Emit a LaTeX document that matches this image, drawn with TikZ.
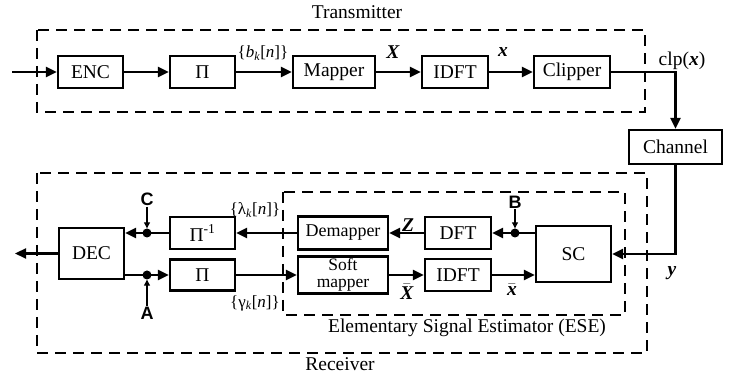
\documentclass[tikz,border=0pt]{standalone}
\usepackage{fontspec}
\setmainfont{Liberation Serif}
\newfontfamily\probefont{Liberation Sans}
\usetikzlibrary{arrows.meta}

\begin{document}
\begin{tikzpicture}[x=1pt, y=1pt,
    block/.style={draw, line width=2.2pt, minimum height=32pt, inner sep=0pt,
        font=\fontsize{19.5}{22}\selectfont},
    frame/.style={line width=1.8pt, dash pattern=on 11pt off 7pt},
    sig/.style={line width=2.2pt, -{Triangle[length=11pt,width=10pt]}},
    tap/.style={circle, fill, inner sep=0pt, minimum size=9pt},
    probe/.style={line width=1.1pt, -{Triangle[length=6pt,width=6pt]}},
    lbl/.style={inner sep=1pt, font=\fontsize{17}{19}\selectfont},
    vlbl/.style={inner sep=1pt, font=\fontsize{19.5}{22}\selectfont},
    probelbl/.style={inner sep=1pt, font=\probefont\bfseries\fontsize{18}{20}\selectfont},
]
    \useasboundingbox (0,0) rectangle (732,374);

    % transmitter chain
    \node[block, minimum width=65pt] (enc) at (90.5,302) {ENC};
    \node[block, minimum width=65pt] (ilv) at (202.5,302) {Π};
    \node[block, minimum width=82pt] (map) at (334,302) {Mapper};
    \node[block, minimum width=66pt] (idft) at (455,302) {IDFT};
    \node[block, minimum width=76pt] (clip) at (572,302) {Clipper};
    \node[block, minimum width=93pt, minimum height=34pt] (chan) at (675.5,227) {Channel};

    % receiver chain
    \node[block, minimum width=65pt, minimum height=51pt] (dec) at (91.5,120.5) {DEC};
    \node[block, minimum width=65pt] (deilv) at (202.5,141) {Π\textsuperscript{-1}};
    \node[block, minimum width=65pt, minimum height=31pt] (rilv) at (202.5,99) {Π};
    \node[block, minimum width=90pt, minimum height=33pt,
        font=\fontsize{18}{17}\selectfont] (demap) at (343,141) {Demapper};
    \node[block, minimum width=90pt, minimum height=37pt, align=center,
        font=\fontsize{17.5}{17}\selectfont] (smap) at (343,99) {Soft\\mapper};
    \node[block, minimum width=66pt] (dft) at (458,141) {DFT};
    \node[block, minimum width=66pt] (ridft) at (458,99) {IDFT};
    \node[block, minimum width=75pt, minimum height=56pt] (sc) at (573.5,120) {SC};

    % dashed frames
    \draw[frame] (37,344) rectangle (645,262);
    \draw[frame] (37,201) rectangle (647,21);
    \draw[frame, line width=1.5pt] (283,182) rectangle (625,59);
    \node[vlbl] (ttx) at (357,362) {Transmitter};
    \node[vlbl] (trx) at (340,10) {Receiver};
    \node[vlbl] (tese) at (467,46) {Elementary Signal Estimator (ESE)};

    % forward path
    \coordinate (src) at (12,302);
    \draw[sig] (src) -- (enc);
    \draw[sig] (enc) -- (ilv);
    \draw[sig] (ilv) -- (map);
    \draw[sig] (map) -- (idft);
    \draw[sig] (idft) -- (clip);
    \draw[sig] (clip) -| (chan);
    \draw[sig] (chan) |- (sc);

    % taps
    \node[tap] (tapB) at (515,141) {};
    \node[tap] (tapC) at (147,141) {};
    \node[tap] (tapA) at (147,99) {};

    % ESE and decoder loop
    \draw[sig] (sc.west |- tapB) -- (tapB.center) -- (dft);
    \draw[sig] (dft) -- (demap);
    \draw[sig] (demap) -- (deilv);
    \draw[sig] (deilv) -- (tapC.center) -- (tapC -| dec.east);
    \draw[sig] (dec.east |- tapA) -- (tapA.center) -- (rilv);
    \draw[sig] (rilv) -- (smap);
    \draw[sig] (smap) -- (ridft);
    \draw[sig] (ridft) -- (ridft -| sc.west);
    \coordinate (sink) at (15,120.5);
    \draw[sig] (dec) -- (sink);

    % signal labels
    \node[lbl] (lb) at (263,321) {\{\textit{b}\textsubscript{\textit{k}}[\textit{n}]\}};
    \node[vlbl] (lX) at (393,322) {\textbf{\textit{X}}};
    \node[vlbl] (lx) at (503,322) {\textbf{\textit{x}}};
    \node[vlbl] (lclp) at (682,313) {clp(\textbf{\textit{x}})};
    \node[vlbl] (ly) at (672,101) {\textbf{\textit{y}}};
    \node[vlbl] (lZ) at (408,149) {\textbf{\textit{Z}}};
    \node[vlbl] (lXb) at (407,82) {$\bar{\hbox{\bfseries\itshape X}}$};
    \node[vlbl] (lxb) at (512,84) {$\bar{\hbox{\bfseries\itshape x}}$};
    \node[lbl] (llam) at (255,164) {\{λ\textsubscript{\textit{k}}[\textit{n}]\}};
    \node[lbl] (lgam) at (255,71) {\{γ\textsubscript{\textit{k}}[\textit{n}]\}};

    % probe points
    \node[probelbl] (pC) at (147,175) {C};
    \node[probelbl] (pB) at (515,172) {B};
    \node[probelbl] (pA) at (147,61) {A};
    \draw[probe] (pC) -- (tapC);
    \draw[probe] (pB) -- (tapB);
    \draw[probe] (pA) -- (tapA);
\end{tikzpicture}
\end{document}
